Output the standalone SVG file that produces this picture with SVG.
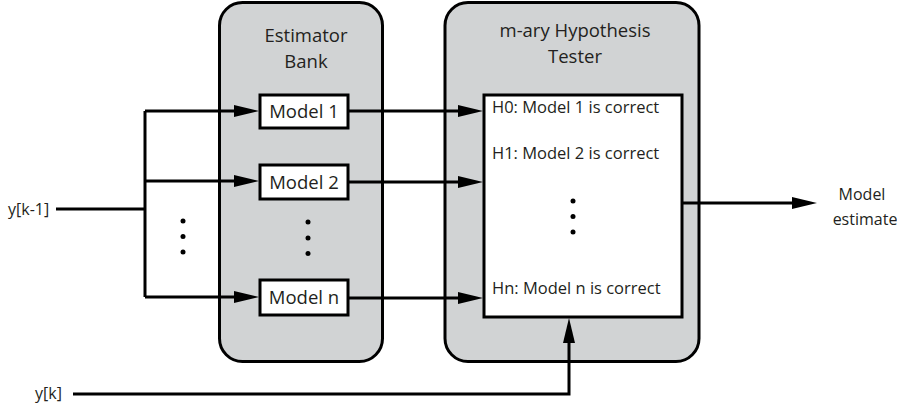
<svg xmlns="http://www.w3.org/2000/svg" width="897" height="409" viewBox="0 0 897 409">
<defs>
<marker id="arr" markerUnits="userSpaceOnUse" markerWidth="26" markerHeight="12" refX="3" refY="6" orient="auto">
<path d="M0,0 L25,6 L0,12 z" fill="#000"/>
</marker>
<style>
.grp{fill:#d1d3d4;stroke:#000;stroke-width:3}
.box{fill:#fff;stroke:#000;stroke-width:3}
.ln{fill:none;stroke:#000;stroke-width:3}
.t{font-family:"Open Sans","Liberation Sans",sans-serif;fill:#231f20}
.h{font-size:18.5px;text-anchor:middle}
.m{font-size:18.5px;text-anchor:middle}
.hy{font-size:16.5px}
.lb{font-size:16px}
.dot{fill:#000}
</style>
</defs>
<rect width="897" height="409" fill="#fff"/>

<g id="estimator-bank">
<rect class="grp" x="219.5" y="2.5" width="163" height="359" rx="23"/>
<text class="t h" x="306" y="42">Estimator</text>
<text class="t h" x="306" y="68">Bank</text>
</g>

<g id="hypothesis-tester">
<rect class="grp" x="445" y="2.5" width="254" height="359" rx="23"/>
<text class="t h" x="575" y="37">m-ary Hypothesis</text>
<text class="t h" x="575" y="63">Tester</text>
</g>

<g id="model-1">
<rect class="box" x="260" y="95" width="88" height="33"/>
<text class="t m" x="304" y="118">Model 1</text>
</g>
<g id="model-2">
<rect class="box" x="260" y="165" width="88" height="34"/>
<text class="t m" x="304" y="189">Model 2</text>
</g>
<g id="model-n">
<rect class="box" x="260" y="280" width="88" height="35"/>
<text class="t m" x="304" y="304">Model n</text>
</g>

<g id="hypotheses">
<rect class="box" x="484" y="95" width="198" height="222"/>
<text class="t hy" x="492" y="113">H0: Model 1 is correct</text>
<text class="t hy" x="492" y="159">H1: Model 2 is correct</text>
<text class="t hy" x="492" y="294">Hn: Model n is correct</text>
<circle class="dot" cx="573" cy="201" r="2.5"/>
<circle class="dot" cx="573" cy="216.5" r="2.5"/>
<circle class="dot" cx="573" cy="232" r="2.5"/>
</g>

<g id="labels">
<text class="t lb" x="8" y="215">y[k-1]</text>
<text class="t lb" x="35" y="399">y[k]</text>
<text class="t lb" x="862" y="200" text-anchor="middle">Model</text>
<text class="t lb" x="865" y="225" text-anchor="middle">estimate</text>
</g>

<g id="ellipses">
<circle class="dot" cx="183" cy="221" r="2.5"/>
<circle class="dot" cx="183" cy="236.5" r="2.5"/>
<circle class="dot" cx="183" cy="252" r="2.5"/>
<circle class="dot" cx="308" cy="222" r="2.5"/>
<circle class="dot" cx="308" cy="238" r="2.5"/>
<circle class="dot" cx="308" cy="253.5" r="2.5"/>
</g>

<g id="connectors">
<path class="ln" d="M56,209 H145"/>
<path class="ln" d="M145,111 V297"/>
<path class="ln" d="M145,111 H237" marker-end="url(#arr)"/>
<path class="ln" d="M145,181 H237" marker-end="url(#arr)"/>
<path class="ln" d="M145,297 H237" marker-end="url(#arr)"/>
<path class="ln" d="M348,111 H461" marker-end="url(#arr)"/>
<path class="ln" d="M348,182 H461" marker-end="url(#arr)"/>
<path class="ln" d="M348,298 H461" marker-end="url(#arr)"/>
<path class="ln" d="M682,203 H795" marker-end="url(#arr)"/>
<path class="ln" d="M73,394 H569 V340" marker-end="url(#arr)"/>
</g>
</svg>
